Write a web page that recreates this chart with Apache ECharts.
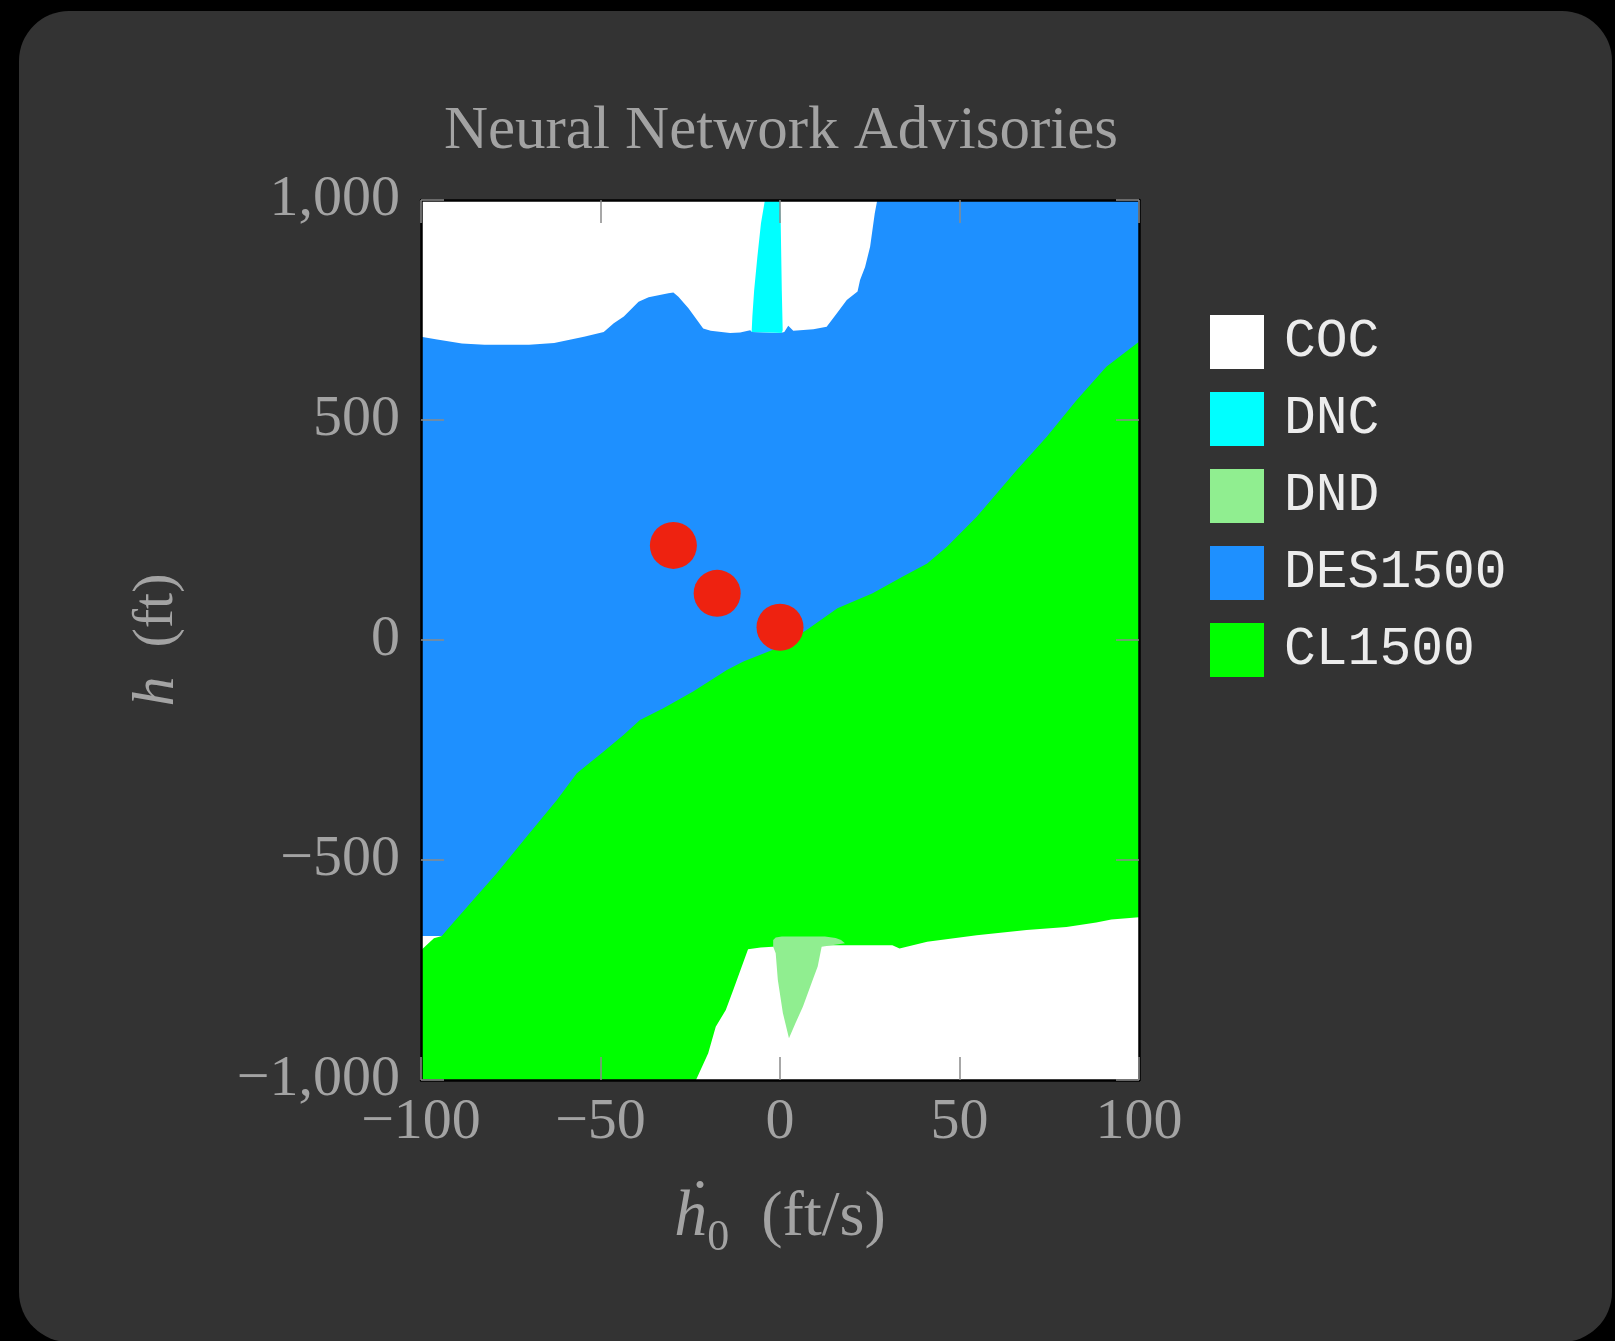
<!DOCTYPE html>
<html>
<head>
<meta charset="utf-8">
<script src="https://cdn.jsdelivr.net/npm/echarts@6/dist/echarts.min.js"></script>
<style>
html,body{margin:0;padding:0;background:#000;}
#chart{width:1615px;height:1341px;}
</style>
</head>
<body>
<div id="chart"></div>
<script>
// ---- data ----
const categories = ['COC', 'DNC', 'DND', 'DES1500', 'CL1500'];
const xTicks = [-100, -50, 0, 50, 100];
const yTicks = [-1000, -500, 0, 500, 1000];

// DES1500 fills the whole domain (background region)
const des1500Region = [[-100, -1000], [100, -1000], [100, 1000], [-100, 1000]];

// COC region at the top
const cocTopRegion = [
  [-100, 1000], [-100, 689], [-95.5, 683], [-88.6, 674], [-82.3, 671], [-69.9, 671],
  [-62.9, 675], [-54.6, 689], [-49.1, 700], [-46.3, 720], [-43.5, 735], [-39.4, 769],
  [-36.6, 779], [-31.1, 788], [-29.7, 790], [-28.3, 780], [-25.5, 754], [-21.4, 708],
  [-19.3, 703], [-13.9, 698], [-11.1, 699], [-8.3, 704], [-7.8, 700], [0, 698],
  [1.2, 700], [2.3, 714], [3.7, 703], [9.3, 706], [13.0, 712], [15.8, 742],
  [18.6, 773], [21.6, 792], [22.3, 818], [23.7, 848], [25.1, 894], [26.4, 970],
  [27.1, 1000]
];

// DNC sliver near zero rate
const dncRegion = [
  [-7.9, 700], [-7.7, 735], [-7.2, 795], [-6.3, 871], [-5.3, 947], [-4.2, 1000],
  [0, 1000], [0.2, 947], [0.5, 795], [0.75, 704], [0.5, 698], [-3, 699]
];

// small COC sliver at the left edge
const cocLeftSliver = [[-100, -673], [-93.5, -673], [-100, -720]];

// CL1500 region (upper boundary, closed along the bottom)
const cl1500Region = [
  [-100, -705], [-96.4, -678], [-94.2, -673], [-92.8, -659], [-85.9, -595],
  [-78.9, -530], [-70.6, -447], [-62.2, -364], [-56.6, -303], [-49.2, -254],
  [-43.6, -216], [-39.0, -182], [-32.5, -155], [-24.2, -117], [-14.8, -68],
  [-10.2, -49], [-0.9, -19], [7.4, 23], [16.0, 72], [25.8, 106], [34.1, 144],
  [41.0, 174], [46.5, 212], [54.8, 280], [65.9, 386], [74.3, 462], [82.6, 545],
  [90.9, 621], [100, 678], [100, -1000], [-100, -1000]
];

// COC region at the bottom
const cocBottomRegion = [
  [-23.4, -1000], [-20.0, -939], [-17.9, -879], [-15.1, -841], [-13.0, -795],
  [-11.0, -750], [-8.9, -703], [-5.4, -699], [-2.0, -697], [11.6, -694],
  [31.3, -694], [33.3, -701], [41.0, -686], [54.8, -671], [68.7, -659],
  [79.8, -652], [88.1, -642], [92.3, -635], [100, -630], [100, -1000]
];

// DND wedge
const dndRegion = [
  [-1.9, -682], [-1.2, -676], [0.5, -674], [12.5, -674], [15.5, -677], [17.0, -682],
  [18.1, -689], [11.6, -697], [10.5, -742], [9.1, -773], [6.4, -833], [4.3, -871],
  [2.5, -905], [0.8, -848], [-0.6, -773], [-1.2, -712], [-1.9, -697]
];

// red state points
const statePoints = [[-29.7, 215], [-17.5, 106], [0, 29]];

const colors = {
  COC: '#ffffff', DNC: '#00ffff', DND: '#90ee90', DES1500: '#1e90ff', CL1500: '#00ff00'
};

// ---- helpers ----
function polySeries(name, pts) {
  return {
    type: 'custom',
    name: name,
    data: pts,
    encode: { x: 0, y: 1 },
    clip: true,
    silent: true,
    itemStyle: { color: colors[name] },
    renderItem: function (params, api) {
      if (params.dataIndex !== 0) return;
      const p = pts.map(function (v) { return api.coord(v); });
      return { type: 'polygon', shape: { points: p }, style: { fill: colors[name], stroke: null } };
    }
  };
}

const serif = "'Liberation Serif', 'DejaVu Serif', serif";
const labelColor = '#a3a3a3';
const fmt = function (v) {
  const s = Math.abs(v).toLocaleString('en-US');
  return (v < 0 ? '\u2212' : '') + s;
};
const tickStyle = { show: true, inside: true, length: 23, lineStyle: { color: '#8a8a8a', width: 1.5 } };
const lineStyle = { show: true, onZero: false, lineStyle: { color: '#000', width: 2.5 } };

const chart = echarts.init(document.getElementById('chart'));
chart.setOption({
  animation: false,
  backgroundColor: '#000',
  graphic: [{
    type: 'rect', z: -10, silent: true,
    shape: { x: 19, y: 11, width: 1593, height: 1331, r: 50 },
    style: { fill: '#333333' }
  }],
  title: {
    text: 'Neural Network Advisories',
    left: 776, top: 96, textAlign: 'center',
    textStyle: { fontFamily: serif, fontSize: 61, fontWeight: 'normal', color: labelColor }
  },
  legend: {
    data: categories,
    orient: 'vertical',
    left: 1205, top: 310,
    itemWidth: 54, itemHeight: 54, itemGap: 23,
    icon: 'rect',
    selectedMode: false,
    textStyle: { fontFamily: "'Liberation Mono', 'DejaVu Sans Mono', monospace", fontSize: 53, color: '#ececec', padding: [0, 0, 0, 15] }
  },
  grid: { left: 421, top: 200, width: 718, height: 880, containLabel: false },
  xAxis: [{
    type: 'value', min: xTicks[0], max: xTicks[xTicks.length - 1], interval: 50,
    position: 'bottom', z: 10,
    axisLine: lineStyle, axisTick: tickStyle, splitLine: { show: false },
    axisLabel: { formatter: fmt, color: labelColor, fontFamily: serif, fontSize: 58, margin: 14 },
    name: '{h|\u1E23}{s|0}{n|  (ft/s)}',
    nameLocation: 'middle', nameGap: 96,
    nameTextStyle: {
      color: labelColor, fontFamily: serif, fontSize: 64,
      rich: {
        h: { fontFamily: serif, fontStyle: 'italic', fontSize: 66, color: labelColor, lineHeight: 84, verticalAlign: 'middle' },
        s: { fontFamily: serif, fontSize: 44, color: labelColor, lineHeight: 84, verticalAlign: 'bottom' },
        n: { fontFamily: serif, fontSize: 64, color: labelColor, lineHeight: 84, verticalAlign: 'middle' }
      }
    }
  }, {
    type: 'value', min: xTicks[0], max: xTicks[xTicks.length - 1], interval: 50,
    position: 'top', z: 10,
    axisLine: lineStyle, axisTick: tickStyle, splitLine: { show: false }, axisLabel: { show: false }
  }],
  yAxis: [{
    type: 'value', min: yTicks[0], max: yTicks[yTicks.length - 1], interval: 500,
    position: 'left', z: 10,
    axisLine: lineStyle, axisTick: tickStyle, splitLine: { show: false },
    axisLabel: { formatter: fmt, color: labelColor, fontFamily: serif, fontSize: 58, margin: 21 },
    name: '{h|h}{n|  (ft)}',
    nameLocation: 'middle', nameGap: 234,
    nameTextStyle: {
      color: labelColor, fontFamily: serif, fontSize: 58,
      rich: {
        h: { fontFamily: serif, fontStyle: 'italic', fontSize: 60, color: labelColor },
        n: { fontFamily: serif, fontSize: 58, color: labelColor }
      }
    }
  }, {
    type: 'value', min: yTicks[0], max: yTicks[yTicks.length - 1], interval: 500,
    position: 'right', z: 10,
    axisLine: lineStyle, axisTick: tickStyle, splitLine: { show: false }, axisLabel: { show: false }
  }],
  series: [
    polySeries('DES1500', des1500Region),
    polySeries('COC', cocTopRegion),
    polySeries('DNC', dncRegion),
    polySeries('COC', cocLeftSliver),
    polySeries('CL1500', cl1500Region),
    polySeries('COC', cocBottomRegion),
    polySeries('DND', dndRegion),
    {
      type: 'scatter', name: 'state', data: statePoints,
      symbol: 'circle', symbolSize: 47, silent: true, z: 5,
      itemStyle: { color: '#ee2210', opacity: 1 }
    }
  ]
});
</script>
</body>
</html>
